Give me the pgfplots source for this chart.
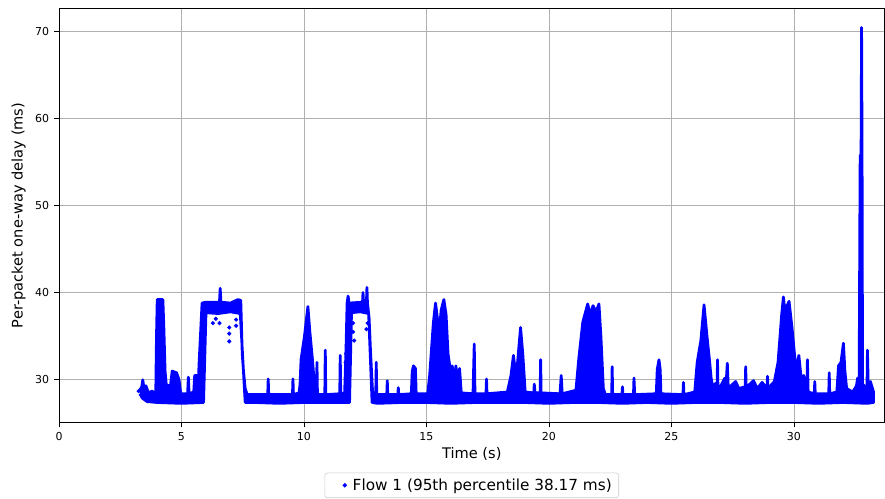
\documentclass[border=0pt]{standalone}
\usepackage{fontspec}
\setmainfont{DejaVu Sans}
\usepackage{pgfplots}
\usepackage{pgfplotstable}
\pgfplotsset{compat=1.18}
\definecolor{gridgray}{HTML}{B0B0B0}
\definecolor{leggray}{HTML}{CCCCCC}
% envelope of the dense packet cloud: upper edge left to right, lower edge right to left
\pgfplotstableread{
t d
3.30 28.6
3.38 29.2
3.42 30.0
3.46 29.2
3.55 29.3
3.65 28.5
3.80 28.7
3.95 28.4
3.98 35
4.01 39.2
4.24 39.2
4.28 36
4.33 31
4.38 29.4
4.55 29.3
4.62 31.0
4.80 30.8
4.90 30.0
4.97 28.4
5.25 28.4
5.28 30.3
5.31 28.4
5.50 28.6
5.54 30.5
5.62 30.5
5.67 28.6
5.72 32
5.84 38.8
6.00 38.9
6.55 38.9
6.58 40.5
6.61 38.9
7.00 38.8
7.30 39.2
7.42 39.1
7.48 33
7.53 31
7.60 29
7.68 28.3
8.52 28.3
8.54 30.1
8.56 28.3
9.53 28.3
9.55 30.1
9.57 28.3
9.80 28.5
9.84 29.5
9.88 32.3
10.02 35
10.16 38.4
10.24 35.5
10.34 32.5
10.44 29
10.48 28.3
10.51 28.3
10.53 32.0
10.55 28.3
10.85 28.3
10.87 33.4
10.89 28.3
11.46 28.4
11.48 32.8
11.50 28.4
11.66 28.5
11.72 34
11.76 38.8
11.80 39.6
11.84 38.8
12.39 38.9
12.41 40.0
12.43 38.9
12.55 38.9
12.57 40.6
12.59 38.9
12.66 37
12.72 33
12.80 28.6
12.93 28.3
12.95 32.0
12.97 28.3
13.38 28.3
13.40 29.9
13.42 28.3
13.83 28.3
13.85 29.1
13.87 28.3
14.38 28.4
14.42 31.0
14.47 31.6
14.55 31.3
14.58 28.4
15.05 28.4
15.13 30.5
15.28 36.5
15.37 38.8
15.45 37
15.52 35.5
15.60 38
15.71 39.2
15.80 37.5
15.88 33
15.95 31.6
16.00 29.5
16.05 31.6
16.15 29.6
16.20 31.6
16.30 29.5
16.35 31.3
16.42 28.5
16.90 28.4
16.95 34.1
16.98 28.4
17.43 28.4
17.45 30.1
17.47 28.4
18.30 28.6
18.45 30.5
18.55 32.8
18.65 30.5
18.72 32.0
18.84 36.0
18.93 33
19.03 28.6
19.38 28.5
19.40 29.5
19.43 28.5
19.64 28.5
19.66 32.3
19.68 28.5
20.45 28.4
20.50 30.5
20.54 28.4
21.10 28.8
21.22 32.5
21.38 36.6
21.58 38.7
21.68 37.5
21.80 38.5
21.92 37.8
22.04 38.7
22.12 35
22.22 29
22.30 28.3
22.56 28.3
22.58 31.5
22.60 28.3
22.98 28.3
23.00 29.2
23.02 28.3
23.45 28.3
23.47 30.2
23.50 28.3
24.38 28.4
24.42 31.2
24.49 32.3
24.54 31.2
24.57 28.4
25.47 28.3
25.49 29.7
25.51 28.3
25.95 28.6
26.05 32
26.20 34.5
26.33 38.6
26.45 35
26.55 32.3
26.62 30.2
26.70 29.0
26.80 29.6
26.86 28.6
26.88 32.3
26.90 28.6
27.05 29.5
27.18 30.2
27.22 29.0
27.28 31.9
27.32 29.0
27.50 29.5
27.62 29.8
27.75 29.0
28.01 29.2
28.03 31.5
28.05 29.2
28.20 29.5
28.35 29.9
28.50 29.0
28.70 29.7
28.90 29.0
28.92 30.4
28.94 29.0
29.20 29.8
29.35 32
29.50 37.5
29.57 39.5
29.66 37
29.72 38.5
29.80 39.0
29.92 36
30.02 33
30.10 31
30.20 32.8
30.30 30
30.40 30.5
30.53 28.8
30.55 32.3
30.58 28.6
30.83 28.4
30.85 29.8
30.87 28.4
31.42 28.4
31.44 30.8
31.46 28.4
31.75 28.6
31.82 31.6
31.92 32
32.02 34.2
32.08 31
32.15 29.0
32.40 28.6
32.55 29.3
32.60 30.2
32.66 28.8
32.70 54.6
32.71 55.8
32.74 55.8
32.76 70.4
32.78 56
32.80 29.5
32.90 29.2
32.98 28.6
33.00 33.4
33.03 29.5
33.12 29.8
33.25 28.6
33.25 27.4
33.00 27.3
32.00 27.4
31.00 27.3
30.00 27.4
29.00 27.4
28.00 27.3
27.00 27.4
26.00 27.4
25.00 27.3
24.00 27.4
23.00 27.3
22.00 27.4
21.00 27.4
20.00 27.3
19.00 27.4
18.00 27.4
17.00 27.4
16.00 27.3
15.00 27.4
14.00 27.4
13.00 27.3
12.78 27.4
12.64 37.6
12.30 37.8
11.94 37.7
11.86 27.4
11.00 27.4
10.00 27.4
9.00 27.3
8.00 27.4
7.60 27.4
7.40 37.6
7.00 37.8
6.50 37.6
6.00 37.7
5.90 27.4
5.00 27.3
4.00 27.4
3.60 27.5
3.40 27.9
3.30 28.4
}\envelope
% isolated packets
\pgfplotstableread{
t d
3.25 28.7
3.35 29.0
6.28 36.5
6.55 36.5
6.40 37.0
6.95 36.0
6.95 35.3
6.95 34.4
7.23 36.9
7.23 36.2
12.00 36.5
12.00 35.5
12.05 34.5
12.60 36.5
12.55 35.8
11.75 34
11.72 33
11.70 32
11.74 30.5
15.50 33
15.52 32.2
21.75 35
21.70 34.3
26.02 28
26.03 27.6
29.35 28
29.36 27.5
18.75 28.2
18.77 27.7
}\isolated
\begin{document}
\begin{tikzpicture}
\begin{axis}[
  name=ax,
  scale only axis,
  width=594pt, height=298pt,
  xmin=0, xmax=33.7, ymin=25.1, ymax=72.6,
  xtick={0,5,10,15,20,25,30},
  ytick={30,40,50,60,70},
  grid=major,
  major grid style={gridgray, line width=0.6pt},
  axis line style={black, line width=0.6pt},
  tick style={black, line width=0.6pt},
  tick align=outside,
  major tick length=3.5pt,
  xtick pos=bottom, ytick pos=left,
  /pgf/number format/assume math mode=true,
  ticklabel style={font=\fontsize{7.9}{9}\selectfont},
  xlabel={Time (s)},
  ylabel={Per-packet one-way delay (ms)},
  label style={font=\fontsize{10.5}{12}\selectfont},
  xlabel style={yshift=2pt},
  legend style={at={(0.5,-0.121)}, anchor=north, draw=leggray, rounded corners=2pt,
    font=\fontsize{11}{12}\selectfont, inner xsep=3pt, inner ysep=2pt},
  legend cell align=left,
]
\addlegendimage{legend image code/.code={\path[draw=none] (0,0) -- (0.53cm,0); \fill[blue] (0.40cm,0) circle (1.4pt);}}
\addlegendentry{Flow 1 (95th percentile 38.17 ms)}
\addplot[forget plot, draw=none, fill=blue] table[x=t, y=d] {\envelope};
\addplot[forget plot, draw=blue, line width=2pt, line join=round] table[x=t, y=d] {\envelope};
\addplot[forget plot, only marks, mark=*, mark size=1.3pt, blue] table[x=t, y=d] {\isolated};
\end{axis}
\path ([yshift=6pt]ax.north east);
\path ([xshift=-5pt]current bounding box.west);
\end{tikzpicture}
\end{document}
